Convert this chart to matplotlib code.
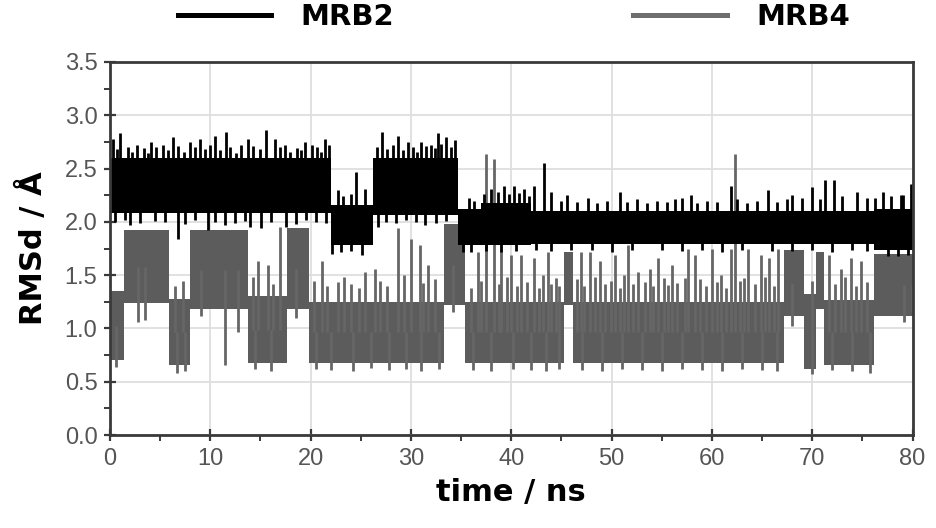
import numpy as np
import matplotlib
matplotlib.use("Agg")
import matplotlib.pyplot as plt
from matplotlib.lines import Line2D

# MRB2 (black): step envelope of the dense trace
mrb2_breaks = [0, 22.0, 26.2, 34.7, 37.0, 42.0, 76.2, 80]
mrb2_lo = [2.08, 1.78, 2.06, 1.78, 1.78, 1.79, 1.74]
mrb2_hi = [2.60, 2.16, 2.60, 2.12, 2.18, 2.10, 2.12]
# spikes above the band (time, peak)
mrb2_spike_t = [0.3, 1.0, 2.7, 4.1, 5.3, 6.3, 8.0, 9.0, 10.5, 11.6, 13.1, 13.8, 15.6, 16.4,
                17.4, 19.4, 20.1, 21.4, 22.7, 24.5, 25.4, 27.1, 28.7, 29.7, 31.0, 32.0,
                32.7, 33.5, 34.4, 35.8, 38.0, 39.3, 40.3, 41.3, 42.3, 43.3, 44.0, 45.6,
                47.6, 50.8, 57.0, 57.9, 61.9, 65.6, 68.0, 70.0, 71.3, 72.2, 74.5, 75.5,
                77.0, 77.8, 78.8, 79.8,
                0.7, 1.8, 2.2, 3.4, 3.8, 4.6, 5.8, 6.8, 7.4, 8.5, 9.5, 10.0, 11.0, 12.0,
                12.6, 14.3, 15.0, 16.9, 17.9, 18.6, 19.0, 20.6, 21.0, 21.8, 23.2, 24.0,
                26.6, 27.6, 28.2, 29.2, 30.2, 30.6, 31.5, 32.4, 33.0, 34.0,
                36.3, 37.3, 38.7, 39.8, 40.8, 41.8, 45.0, 46.5, 48.5, 49.5, 51.5, 52.5,
                53.5, 54.5, 55.5, 56.3, 58.5, 59.5, 60.5, 62.5, 63.5, 64.5, 66.5, 67.5,
                69.0, 70.8, 73.0, 76.3, 79.0]
mrb2_spike_v = [2.78, 2.83, 2.72, 2.75, 2.72, 2.80, 2.75, 2.78, 2.81, 2.84, 2.72, 2.78, 2.86, 2.78,
                2.72, 2.75, 2.72, 2.78, 2.30, 2.47, 2.31, 2.84, 2.81, 2.75, 2.75, 2.72,
                2.83, 2.80, 2.77, 2.22, 2.31, 2.34, 2.34, 2.31, 2.34, 2.55, 2.28, 2.25,
                2.22, 2.28, 2.22, 2.25, 2.34, 2.30, 2.25, 2.33, 2.39, 2.39, 2.28, 2.22,
                2.28, 2.24, 2.25, 2.36,
                2.68, 2.70, 2.66, 2.69, 2.65, 2.70, 2.67, 2.71, 2.66, 2.70, 2.68, 2.72, 2.67, 2.70,
                2.65, 2.71, 2.68, 2.70, 2.66, 2.69, 2.67, 2.70, 2.66, 2.72, 2.24, 2.26,
                2.70, 2.68, 2.72, 2.67, 2.70, 2.66, 2.71, 2.69, 2.73, 2.70,
                2.20, 2.26, 2.28, 2.26, 2.27, 2.24, 2.20, 2.19, 2.18, 2.20, 2.19, 2.21,
                2.18, 2.20, 2.19, 2.21, 2.18, 2.20, 2.19, 2.21, 2.18, 2.20, 2.19, 2.21,
                2.22, 2.21, 2.24, 2.22, 2.25]
# dips below the band (time, minimum)
mrb2_dip_t = [2.0, 6.8, 9.8, 11.5, 14.0, 15.1, 17.5, 22.1, 25.1, 26.7, 31.4, 36.0, 40.5, 48.0,
              55.0, 66.0, 77.5,
              0.5, 1.5, 3.0, 4.5, 5.5, 7.5, 8.5, 10.5, 12.5, 13.5, 16.0, 18.5, 19.5, 20.5,
              21.5, 23.0, 24.0, 27.5, 28.5, 29.5, 30.5, 32.5, 33.5, 35.2, 37.5, 39.0, 42.5,
              44.0, 46.0, 50.0, 52.0, 57.0, 59.0, 61.0, 63.0, 68.0, 70.0, 72.0, 74.0, 75.5,
              78.5, 79.5]
mrb2_dip_v = [1.97, 1.84, 1.92, 1.97, 1.95, 1.94, 1.95, 1.70, 1.69, 1.95, 1.97, 1.72, 1.73, 1.74,
              1.74, 1.73, 1.68,
              2.00, 2.02, 1.99, 2.01, 2.00, 1.98, 2.02, 2.00, 1.99, 2.01, 2.00, 1.98, 2.02, 2.00,
              1.99, 1.72, 1.73, 2.00, 1.99, 2.02, 2.00, 1.99, 2.01, 1.72, 1.73, 1.72, 1.74,
              1.73, 1.74, 1.72, 1.74, 1.73, 1.74, 1.72, 1.74, 1.73, 1.74, 1.72, 1.74, 1.73,
              1.68, 1.69]

# MRB4 (grey): switches between a low (~0.6-1.3) and a high (~1.2-2.0) state
mrb4_breaks = [0, 1.4, 5.9, 8.0, 13.8, 17.6, 19.8, 33.3, 35.4, 45.3, 46.2, 67.2, 69.2,
               70.4, 71.2, 76.2, 80]
mrb4_lo = [0.70, 1.24, 0.66, 1.18, 0.68, 1.18, 0.68, 1.22, 0.68, 1.22, 0.68, 1.12, 0.62,
           1.18, 0.66, 1.12]
mrb4_hi = [1.35, 1.92, 1.28, 1.92, 1.30, 1.94, 1.25, 1.98, 1.25, 1.72, 1.25, 1.74, 1.32,
           1.72, 1.27, 1.70]
mrb4_spike_t = [14.8, 15.8, 16.9, 21.1, 22.7, 25.4, 26.4, 28.7, 30.0, 30.9, 31.7, 36.7, 37.5,
                38.3, 39.0, 40.0, 41.0, 42.3, 43.7, 44.5, 46.9, 47.8, 48.8, 50.3, 51.6,
                52.6, 53.8, 54.6, 56.0, 57.3, 57.6, 58.3, 60.0, 60.9, 61.9, 62.3, 63.2,
                63.6, 64.9, 65.7, 66.6, 71.7, 72.9, 73.9, 74.9,
                6.5, 7.3, 14.3, 16.2, 20.3, 21.6, 23.3, 24.0, 24.8, 26.9, 27.6, 29.3, 31.2,
                32.4, 36.0, 37.0, 38.8, 39.6, 40.6, 41.6, 42.8, 43.2, 44.0, 44.8, 46.5,
                47.2, 48.3, 49.3, 49.9, 50.8, 51.2, 52.1, 53.3, 54.1, 55.2, 55.6, 56.5,
                58.8, 59.4, 60.5, 61.4, 62.8, 64.3, 65.3, 66.2, 70.0, 72.3, 73.3, 74.4,
                75.5]
mrb4_spike_v = [1.63, 1.60, 1.95, 1.63, 1.44, 1.53, 1.56, 1.94, 1.84, 1.78, 1.60, 1.72, 2.64,
                2.59, 1.75, 1.69, 1.69, 1.66, 1.72, 1.47, 1.72, 1.72, 1.63, 1.69, 1.78,
                1.53, 1.56, 1.66, 1.60, 1.47, 1.75, 1.69, 1.75, 1.50, 1.75, 2.64, 1.47,
                1.75, 1.69, 1.66, 1.75, 1.69, 1.56, 1.66, 1.63,
                1.40, 1.45, 1.48, 1.42, 1.45, 1.40, 1.48, 1.42, 1.38, 1.45, 1.40, 1.50, 1.43,
                1.46, 1.38, 1.45, 1.42, 1.48, 1.40, 1.44, 1.38, 1.50, 1.42, 1.40, 1.46,
                1.40, 1.48, 1.42, 1.45, 1.38, 1.50, 1.42, 1.44, 1.40, 1.47, 1.41, 1.43,
                1.46, 1.40, 1.44, 1.38, 1.45, 1.42, 1.48, 1.40, 1.45, 1.42, 1.48, 1.40,
                1.44]
mrb4_dip_t = [2.8, 3.5, 9.1, 11.5, 12.8, 18.5, 34.2, 68.0, 79.1, 79.9,
              0.6, 6.7, 7.5, 14.5, 16.0, 20.5, 22.0, 24.2, 26.0, 27.8, 29.5, 31.0, 32.8,
              36.2, 38.0, 40.2, 42.0, 43.5, 44.8, 47.0, 49.0, 51.0, 53.0, 55.0, 57.0,
              59.0, 61.0, 63.0, 65.0, 66.5, 70.0, 72.0, 74.0, 75.8]
mrb4_dip_v = [1.06, 1.08, 1.12, 0.66, 0.97, 1.10, 1.15, 1.02, 1.06, 1.15,
              0.64, 0.58, 0.60, 0.62, 0.60, 0.62, 0.61, 0.60, 0.63, 0.61, 0.62, 0.60, 0.62,
              0.61, 0.60, 0.62, 0.61, 0.60, 0.62, 0.61, 0.60, 0.62, 0.61, 0.60, 0.62,
              0.61, 0.60, 0.62, 0.61, 0.60, 0.57, 0.61, 0.60, 0.58]

BLACK = "#000000"
GREY = "#5c5c5c"


def band_at(breaks, vals, t):
    idx = np.clip(np.searchsorted(breaks, t, side="right") - 1, 0, len(vals) - 1)
    return np.asarray(vals)[idx]


def draw_series(ax, breaks, lo, hi, sp_t, sp_v, dp_t, dp_v, color, spike_color):
    ax.fill_between(breaks, lo + [lo[-1]], hi + [hi[-1]], step="post",
                    color=color, linewidth=0, zorder=2)
    mid = (np.array(lo) + np.array(hi)) / 2
    ax.vlines(sp_t, band_at(breaks, mid, sp_t), sp_v, color=spike_color, linewidth=2.0, zorder=2)
    ax.vlines(dp_t, dp_v, band_at(breaks, mid, dp_t), color=spike_color, linewidth=2.0, zorder=2)


fig = plt.figure(figsize=(9.36, 5.28), dpi=100)
ax = fig.add_axes([0.1175, 0.176, 0.8575, 0.7066])

draw_series(ax, mrb4_breaks, mrb4_lo, mrb4_hi, mrb4_spike_t, mrb4_spike_v,
            mrb4_dip_t, mrb4_dip_v, GREY, "#666666")
draw_series(ax, mrb2_breaks, mrb2_lo, mrb2_hi, mrb2_spike_t, mrb2_spike_v,
            mrb2_dip_t, mrb2_dip_v, BLACK, BLACK)

ax.set_xlim(0, 80)
ax.set_ylim(0, 3.5)
ax.set_xticks(np.arange(0, 81, 10))
ax.set_xticks(np.arange(5, 80, 10), minor=True)
ax.set_yticks(np.arange(0, 3.51, 0.5))
ax.set_yticks(np.arange(0.25, 3.5, 0.5), minor=True)
ax.set_yticklabels([f"{v:.1f}" for v in np.arange(0, 3.51, 0.5)])
ax.grid(True, which="major", color="#dedede", linewidth=1.3, zorder=0)
ax.set_axisbelow(True)

for s in ax.spines.values():
    s.set_color("#3a3a3a")
    s.set_linewidth(2.0)

ax.tick_params(which="major", direction="inout", length=8, width=1.6, color="#3a3a3a",
               labelsize=17, labelcolor="#555555", pad=5)
ax.tick_params(which="minor", direction="out", length=4, width=1.4, color="#3a3a3a")
for lab in ax.get_xticklabels() + ax.get_yticklabels():
    lab.set_family("Liberation Sans")

ax.set_xlabel("time / ns", fontsize=22, fontweight="bold", labelpad=6)
ax.set_ylabel("RMSd / Å", fontsize=22, fontweight="bold", labelpad=12)

handles = [Line2D([], [], color=BLACK, linewidth=3.6),
           Line2D([], [], color="#6e6e6e", linewidth=3.6)]
fig.legend(handles, ["MRB2", "MRB4"], loc="center", bbox_to_anchor=(0.549, 0.968),
           ncol=2, frameon=False, handlelength=3.2, handletextpad=1.0, columnspacing=8.2,
           prop={"size": 21, "weight": "bold"})

fig.savefig("out.png", dpi=100)
